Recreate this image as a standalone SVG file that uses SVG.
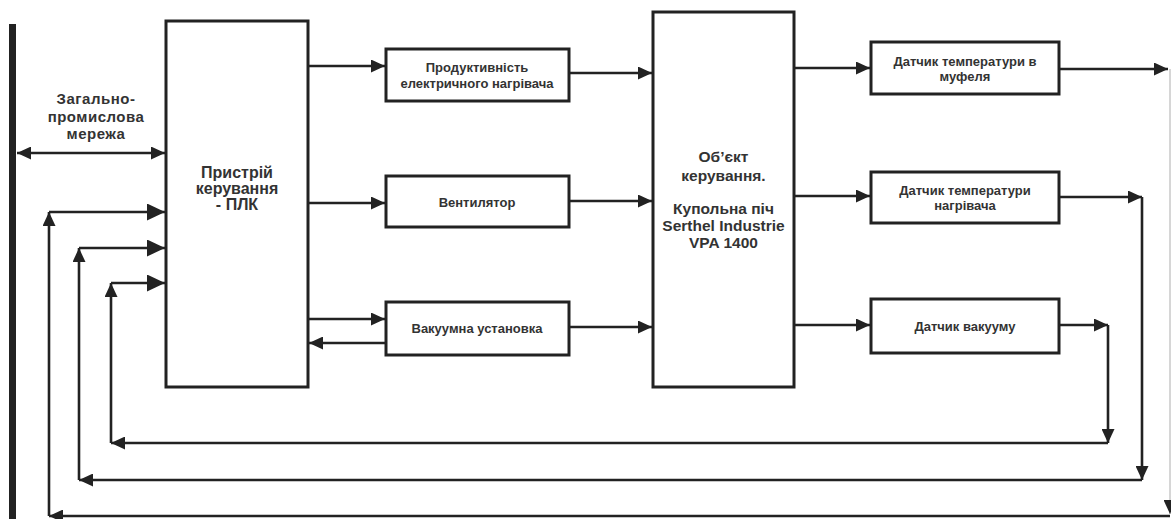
<svg xmlns="http://www.w3.org/2000/svg" width="1171" height="519" viewBox="0 0 1171 519">
<style>
.box{fill:#fff;stroke:#222;stroke-width:3}
.ln{fill:none;stroke:#222;stroke-width:2.6}
.t{font-family:"Liberation Sans",Arial,sans-serif;font-weight:bold;fill:#333;text-anchor:middle}
.s13{font-size:13px}
.net{font-size:15px;letter-spacing:0.5px}
.s16{font-size:16px}
.s155{font-size:15.5px}
</style>
<defs>
<marker id="ah" markerWidth="14" markerHeight="13" refX="14" refY="6.5" orient="auto-start-reverse" markerUnits="userSpaceOnUse"><path d="M0,0 L14,6.5 L0,13 Z" fill="#222"/></marker>
<marker id="big" markerWidth="18" markerHeight="17" refX="18" refY="8.5" orient="auto" markerUnits="userSpaceOnUse"><path d="M0,0 L18,8.5 L0,17 Z" fill="#222"/></marker>
</defs>

<rect id="bus" x="9" y="24" width="7" height="495" fill="#222"/>

<g id="plc">
<rect class="box" x="166" y="21" width="142" height="366"/>
<text class="t s16" x="237" y="178">Пристрій</text>
<text class="t s16" x="237" y="194">керування</text>
<text class="t s16" x="237" y="210">- ПЛК</text>
</g>

<g id="network-label">
<text class="t net" x="96" y="104">Загально-</text>
<text class="t net" x="96" y="122">промислова</text>
<text class="t net" x="96" y="139">мережа</text>
</g>

<g id="heater-power">
<rect class="box" x="386" y="49" width="183" height="52"/>
<text class="t s13" x="477" y="72">Продуктивність</text>
<text class="t s13" x="477" y="88">електричного нагрівача</text>
</g>

<g id="fan">
<rect class="box" x="386" y="176" width="183" height="51"/>
<text class="t s13" x="477" y="207">Вентилятор</text>
</g>

<g id="vacuum-unit">
<rect class="box" x="386" y="302" width="183" height="53"/>
<text class="t s13" x="477" y="333">Вакуумна установка</text>
</g>

<g id="object">
<rect class="box" x="653" y="12" width="141" height="375"/>
<text class="t s155" x="723.5" y="162">Об’єкт</text>
<text class="t s155" x="723.5" y="181">керування.</text>
<text class="t s155" x="723.5" y="214">Купольна піч</text>
<text class="t s155" x="723.5" y="231">Serthel Industrie</text>
<text class="t s155" x="723.5" y="248">VPA 1400</text>
</g>

<g id="sensor-muffle">
<rect class="box" x="871" y="42" width="188" height="52"/>
<text class="t s13" x="965" y="66">Датчик температури в</text>
<text class="t s13" x="965" y="81">муфеля</text>
</g>

<g id="sensor-heater">
<rect class="box" x="871" y="172" width="188" height="51"/>
<text class="t s13" x="965" y="195">Датчик температури</text>
<text class="t s13" x="965" y="210">нагрівача</text>
</g>

<g id="sensor-vacuum">
<rect class="box" x="871" y="299" width="188" height="54"/>
<text class="t s13" x="965" y="331">Датчик вакууму</text>
</g>

<g id="connectors">
<line class="ln" x1="17" y1="153" x2="165" y2="153" marker-start="url(#ah)" marker-end="url(#ah)"/>
<line class="ln" x1="308" y1="66" x2="385" y2="66" marker-end="url(#ah)"/>
<line class="ln" x1="308" y1="203" x2="385" y2="203" marker-end="url(#ah)"/>
<line class="ln" x1="308" y1="319" x2="385" y2="319" marker-end="url(#ah)"/>
<line class="ln" x1="386" y1="343" x2="309" y2="343" marker-end="url(#ah)"/>
<line class="ln" x1="569" y1="73" x2="652" y2="73" marker-end="url(#ah)"/>
<line class="ln" x1="569" y1="201" x2="652" y2="201" marker-end="url(#ah)"/>
<line class="ln" x1="569" y1="327" x2="652" y2="327" marker-end="url(#ah)"/>
<line class="ln" x1="794" y1="68" x2="870" y2="68" marker-end="url(#ah)"/>
<line class="ln" x1="794" y1="196" x2="870" y2="196" marker-end="url(#ah)"/>
<line class="ln" x1="794" y1="325" x2="870" y2="325" marker-end="url(#ah)"/>
<!-- muffle feedback -->
<line class="ln" x1="1059" y1="69" x2="1168" y2="69" marker-end="url(#ah)"/>
<line x1="1170" y1="69" x2="1170" y2="514" stroke="#bbb" stroke-width="1.2" marker-end="url(#ah)"/>
<line class="ln" x1="1170" y1="516" x2="49" y2="516" marker-end="url(#ah)"/>
<line class="ln" x1="49" y1="516" x2="49" y2="212" marker-end="url(#ah)"/>
<line class="ln" x1="49" y1="212" x2="165" y2="212" marker-end="url(#big)"/>
<!-- heater feedback -->
<line class="ln" x1="1059" y1="197" x2="1142" y2="197" marker-end="url(#ah)"/>
<line class="ln" x1="1142" y1="197" x2="1142" y2="480" marker-end="url(#ah)"/>
<line class="ln" x1="1142" y1="480" x2="79" y2="480" marker-end="url(#ah)"/>
<line class="ln" x1="79" y1="480" x2="79" y2="248" marker-end="url(#ah)"/>
<line class="ln" x1="79" y1="248" x2="165" y2="248" marker-end="url(#big)"/>
<!-- vacuum feedback -->
<line class="ln" x1="1059" y1="325" x2="1108" y2="325" marker-end="url(#ah)"/>
<line class="ln" x1="1108" y1="325" x2="1108" y2="443" marker-end="url(#ah)"/>
<line class="ln" x1="1108" y1="443" x2="111" y2="443" marker-end="url(#ah)"/>
<line class="ln" x1="111" y1="443" x2="111" y2="283" marker-end="url(#ah)"/>
<line class="ln" x1="111" y1="283" x2="165" y2="283" marker-end="url(#big)"/>
</g>
</svg>
